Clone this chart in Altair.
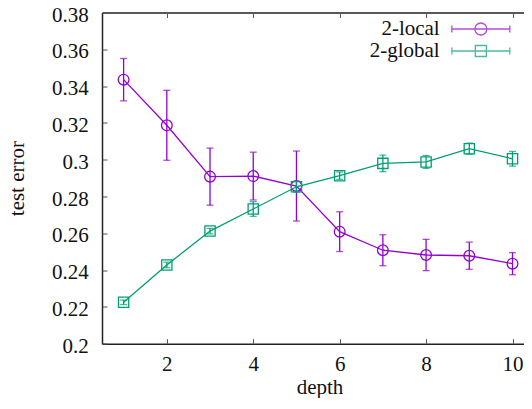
import altair as alt
import pandas as pd

depth = [1, 2, 3, 4, 5, 6, 7, 8, 9, 10]
local_mean = [0.3435, 0.3187, 0.2908, 0.2911, 0.2857, 0.2609, 0.2508, 0.2482, 0.2478, 0.2435]
local_err = [0.0115, 0.019, 0.0155, 0.013, 0.019, 0.0108, 0.0084, 0.0085, 0.0074, 0.006]
global_mean = [0.2225, 0.2428, 0.2612, 0.2732, 0.2853, 0.2913, 0.298, 0.2988, 0.306, 0.3005]
global_err = [0.0012, 0.0015, 0.0015, 0.004, 0.003, 0.002, 0.0045, 0.0035, 0.003, 0.004]
series_names = ["2-local", "2-global"]
series_colors = ["#9400d3", "#009e73"]
x_ticks = [2, 4, 6, 8, 10]
y_ticks = [0.2, 0.22, 0.24, 0.26, 0.28, 0.3, 0.32, 0.34, 0.36, 0.38]

FONT = "Liberation Serif"
FS = 21

def frame(mean, err, name):
    return pd.DataFrame({
        "depth": depth,
        "err_mean": mean,
        "lo": [m - e for m, e in zip(mean, err)],
        "hi": [m + e for m, e in zip(mean, err)],
        "series": name,
    })

df_local = frame(local_mean, local_err, series_names[0])
df_global = frame(global_mean, global_err, series_names[1])
df_all = pd.concat([df_local, df_global])

xscale = alt.Scale(domain=[0.5, 10.266], nice=False, zero=False)
yscale = alt.Scale(domain=[0.2, 0.38], nice=False, zero=False)

INWARD = {"expr": "-5"}

# axes
ax_x_main = alt.Axis(orient="bottom", values=x_ticks, format="d", ticks=False, tickSize=0,
                     domain=True, domainColor="#222222", domainWidth=1.5, grid=False,
                     labelFont=FONT, labelFontSize=FS, labelColor="#111111", labelPadding=10,
                     title="depth", titleFont=FONT, titleFontSize=FS, titleFontWeight="normal",
                     titleColor="#111111", titleBaseline="alphabetic", titleX=217.5, titleY=49.6)
ax_y_main = alt.Axis(orient="left", values=y_ticks, format=".2~f", ticks=False, tickSize=0,
                     domain=True, domainColor="#222222", domainWidth=1.5, grid=False,
                     labelFont=FONT, labelFontSize=FS, labelColor="#111111", labelPadding=13.7,
                     labelOffset=2.5,
                     title="test error", titleFont=FONT, titleFontSize=FS, titleFontWeight="normal",
                     titleColor="#111111", titleAngle=270, titleBaseline="alphabetic",
                     titleAlign="center", titleX=-79, titleY=165.6)
ax_x_ticks = alt.Axis(orient="bottom", values=x_ticks, offset=INWARD, tickSize=5, ticks=True,
                      tickColor="#555555", tickWidth=1, labels=False, domain=False, grid=False, title=None)
ax_y_ticks = alt.Axis(orient="left", values=y_ticks, offset=INWARD, tickSize=5, ticks=True,
                      tickColor="#555555", tickWidth=1, labels=False, domain=False, grid=False, title=None)
ax_x_top = alt.Axis(orient="top", values=x_ticks, ticks=False, labels=False, domain=True,
                    domainColor="#222222", domainWidth=1.5, grid=False, title=None)
ax_x_top_ticks = alt.Axis(orient="top", values=x_ticks, offset=INWARD, tickSize=5, ticks=True,
                          tickColor="#555555", tickWidth=1, labels=False, domain=False, grid=False, title=None)


def series_layers(df, color, shape, size, axx_line, axy_line, axx_rule, axy_rule):
    base = alt.Chart(df)
    line = base.mark_line(color=color, strokeWidth=1.3).encode(
        x=alt.X("depth:Q", scale=xscale, axis=axx_line),
        y=alt.Y("err_mean:Q", scale=yscale, axis=axy_line),
    )
    rule = base.mark_rule(color=color, strokeWidth=1.3).encode(
        x=alt.X("depth:Q", scale=xscale, axis=axx_rule),
        y=alt.Y("lo:Q", scale=yscale, axis=axy_rule),
        y2="hi:Q",
    )
    cap_lo = base.mark_tick(color=color, orient="horizontal", size=7, thickness=1.3).encode(
        x=alt.X("depth:Q", scale=xscale, axis=None),
        y=alt.Y("lo:Q", scale=yscale, axis=None),
    )
    cap_hi = base.mark_tick(color=color, orient="horizontal", size=7, thickness=1.3).encode(
        x=alt.X("depth:Q", scale=xscale, axis=None),
        y=alt.Y("hi:Q", scale=yscale, axis=None),
    )
    pts = base.mark_point(color=color, shape=shape, size=size, filled=False, strokeWidth=1.3, opacity=1).encode(
        x=alt.X("depth:Q", scale=xscale, axis=None),
        y=alt.Y("err_mean:Q", scale=yscale, axis=None),
    )
    return [line, rule, cap_lo, cap_hi, pts]

layers = []
layers += series_layers(df_local, series_colors[0], "circle", 115, ax_x_main, ax_y_main, ax_x_top, None)
layers += series_layers(df_global, series_colors[1], "square", 105, ax_x_ticks, ax_y_ticks, ax_x_top_ticks, None)

# legend sample: line with end caps and the marker (unit = 6 px)
path_circle = ("M-4.83,0H4.83M-4.83,-0.58V0.58M4.83,-0.58V0.58"
               "M-1,0A1,1,0,1,0,1,0A1,1,0,1,0,-1,0Z")
path_square = ("M-4.83,0H4.83M-4.83,-0.58V0.58M4.83,-0.58V0.58"
               "M-0.92,-0.92H0.92V0.92H-0.92Z")

leg = alt.Legend(title=None, orient="none", legendX=368.35, legendY=6, labelAlign="right",
                 labelOffset={"expr": "-51.65"}, symbolSize=144, symbolStrokeWidth=1.3, labelFont=FONT,
                 labelFontSize=FS, labelColor="#111111", padding=0, rowPadding=0, labelLimit=0)

legend_layer = alt.Chart(df_all).mark_point(filled=False, strokeWidth=1.3).encode(
    x=alt.X("depth:Q", scale=xscale, axis=None),
    y=alt.Y("err_mean:Q", scale=yscale, axis=None),
    color=alt.Color("series:N", scale=alt.Scale(domain=series_names, range=series_colors), legend=leg),
    shape=alt.Shape("series:N", scale=alt.Scale(domain=series_names, range=[path_circle, path_square]), legend=leg),
).transform_filter("false")

layers.append(legend_layer)

chart = alt.layer(*layers).resolve_axis(x="independent", y="independent").properties(
    width=422, height=331.2,
    autosize=alt.AutoSizeParams(type="none"),
    padding={"left": 94, "top": 4.5, "right": 0, "bottom": 54.3},
).configure_view(stroke=None)

chart.save("out.html", embed_options={"renderer": "svg", "actions": False})
